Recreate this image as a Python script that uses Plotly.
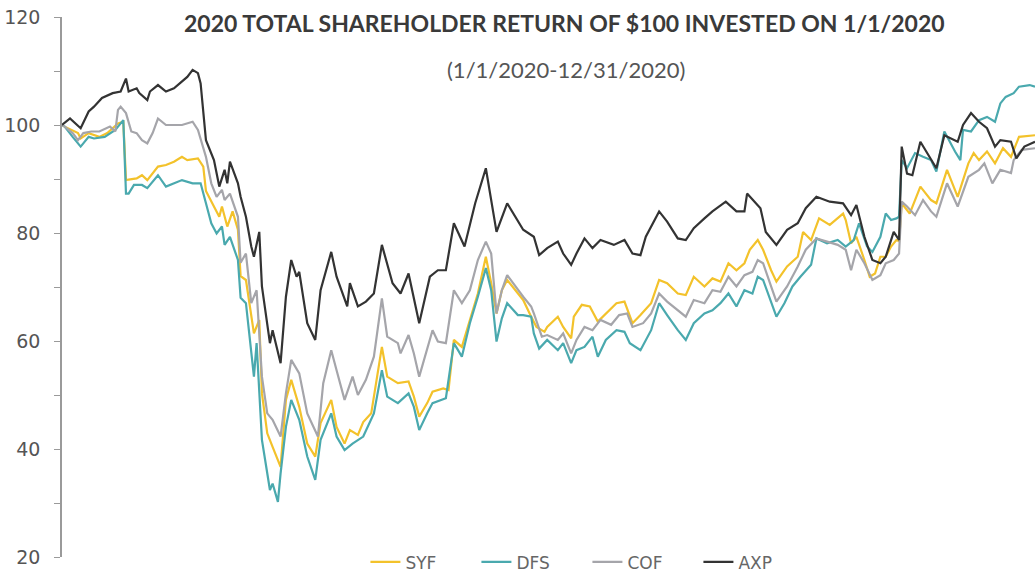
import pandas as pd
import plotly.graph_objects as go

# ---- data (days since 1/1/2020, value of $100 invested) ----
syf_days = [0,1,6,7,10,14,17,21,23,24,25,28,30,32,36,39,42,45,47,51,53,54,57,59,60,62,64,66,67,69,72,74,75,77,79,82,84,86,89,92,95,97,101,103,106,108,111,113,116,120,122,126,130,132,134,137,139,143,145,147,150,153,156,159,161,163,165,167,171,173,176,178,181,182,186,188,191,192,195,198,201,204,208,211,214,217,221,224,227,231,234,237,241,244,247,250,253,256,258,261,263,266,268,272,276,278,281,284,288,293,294,296,298,301,303,305,307,309,311,313,314,315,318,322,326,328,332,336,340,342,344,347,350,353,356,359,365]
syf_vals = [100,99.7,98.5,97.5,98.5,97.8,98.5,100.3,100.6,89.8,89.9,90.1,90.7,89.8,92.3,92.6,93.2,94.1,93.5,93.8,92.3,87.8,84.9,83,84.9,81.2,84,80.6,72,71.3,61.4,63.9,50.3,42.9,40.4,36.7,49.1,52.8,47.8,41,38.6,44.8,49.1,44.1,41,43.5,42.6,45,46.6,58.9,53.4,52.2,52.5,49.7,46,48.5,50.6,51.2,50.9,60.2,58.9,63.9,68.8,75.6,70.7,65.1,69.4,71.3,68.8,67.6,64.5,62.6,61.7,62.6,64.5,62.6,60.5,64.5,66.7,66.4,63.6,65.1,67,67.3,63.3,64.8,67,71.3,70.7,68.8,68.5,71.9,70.1,71.6,71,74.4,73.1,74.4,76.9,78.7,76.9,73.1,71,73.8,75.6,80.2,78.7,82.7,81.5,83.6,82.4,78.1,79.3,75,71.9,72.5,75.6,75.6,77.5,78.7,78.5,85.5,83.6,88.6,86.1,85.5,91.7,86.7,92.9,94.8,93.5,95.1,92.9,95.7,94.1,97.8,98.1]

dfs_days = [0,1,4,7,10,12,16,20,22,23,24,25,27,30,32,36,39,42,45,49,52,54,56,58,60,61,63,66,67,69,72,73,74,75,78,79,81,82,84,86,89,92,95,97,101,103,106,109,113,117,120,122,126,130,132,134,137,139,144,147,150,153,156,159,161,163,165,167,171,173,176,177,179,182,186,188,191,193,196,199,201,204,208,211,213,217,221,224,227,231,234,237,241,244,247,250,253,256,259,261,263,266,268,271,274,277,281,283,287,291,294,297,299,302,304,307,309,311,313,314,315,317,320,323,326,328,331,335,337,338,341,344,347,350,352,354,357,359,363,365]
dfs_vals = [100,99.7,97.8,96,97.8,97.5,97.8,99.1,100.3,100.9,87.3,87.3,88.9,88.9,88.3,90.7,88.6,89.2,89.8,89.2,89.2,85.5,81.8,79.9,81.2,77.8,79.3,75,68,67,53.4,59.6,50.3,41.7,32.4,33.6,30.2,35.5,44.1,49.1,45.4,38.6,34.3,41.7,46.6,42.3,39.8,41,42.3,46.6,54.6,49.7,48.5,50.3,47.8,43.5,46.6,48.5,49.4,59.6,57.1,63.3,68.2,73.5,69.4,59.9,64.2,67,64.8,64.8,64.5,61.4,58.6,60.2,58.3,59.6,55.9,58.3,58.9,60.8,57.1,60.2,62,61.7,59.6,58.3,62,67,64.8,62,60.2,63.3,65.1,65.7,67,68.8,66.4,69.4,68.8,71.9,71.3,67,64.5,67,70.1,71.9,74.1,79,78.1,78.7,77.5,78.7,81.8,77.5,76.5,79.3,83.6,82.4,82.7,83,93.5,92,94.8,94.1,93.5,91.4,98.8,95.1,93.5,99.1,98.8,100.9,101.5,100.6,104,105.2,105.9,107.1,107.4,107.1]

cof_days = [0,1,4,6,8,11,14,18,20,21,22,24,26,28,30,32,34,36,39,42,45,49,51,54,56,58,60,61,63,66,67,69,71,73,75,77,79,82,84,86,89,92,96,98,101,103,106,109,111,114,117,120,122,126,127,130,132,134,137,139,141,144,147,150,153,156,159,161,163,165,167,171,173,176,177,180,182,186,188,191,193,196,199,202,206,209,212,214,218,221,224,227,231,234,237,241,244,247,250,253,256,259,261,263,266,268,272,276,279,283,287,291,294,296,298,301,304,307,309,312,314,315,317,320,323,326,328,332,336,340,344,346,349,352,356,357,360,365]
cof_vals = [100,99.7,98.5,97.2,98.5,98.8,98.8,99.7,98.8,102.8,103.4,102.2,98.8,98.5,97.2,96.6,98.5,101.2,100,100,100,100.6,99.1,94.1,89.2,86.7,88,86.1,87.3,83,74.5,76.2,67,69.4,53.4,46.6,45.4,42.3,50.3,56.5,54,46.6,42.3,52.2,58.3,54.6,49.1,53.4,50,52.8,57.1,67.9,60.8,59.6,57.7,61.1,57.7,53.4,58.3,62,59.9,59.6,69.4,67,69.4,75,78.4,76.2,65.1,69.4,72.2,69.4,68.2,66.4,65.1,60.8,61.1,60.2,61.4,57.7,60.2,62.6,62,63.9,63,64.8,65.1,62.6,63.3,65.1,68.8,67.3,65.7,64.5,67.6,67,69.4,69.1,71.9,70.1,72.2,72.8,75,74.4,70.1,67.3,70.1,73.8,76.9,79,78.4,77.8,76.9,73.1,76.9,74.4,71.3,72.2,74.4,75,76.2,85.8,84.9,83.3,86.1,84,83,89.2,84.9,90.4,91.7,92.9,89.2,91.7,91.1,93.5,95.4,95.7]

axp_days = [0,3,7,10,12,15,19,22,24,25,28,29,32,33,36,39,42,44,47,49,51,52,54,57,59,61,62,63,66,67,69,71,72,74,75,78,79,82,84,86,88,89,92,95,97,101,103,107,108,111,114,117,120,124,127,130,132,134,138,141,144,147,151,155,159,163,167,173,177,179,182,186,188,191,193,196,199,202,207,211,214,217,219,224,227,231,234,237,241,244,249,253,256,257,262,264,268,272,276,279,283,288,293,296,298,301,304,307,309,312,314,315,317,319,322,326,328,331,336,338,341,344,347,350,352,356,358,361,365]
axp_vals = [100,101.2,99.4,102.5,103.4,105,105.9,106.2,108.6,106.2,106.8,105.9,104.6,106.2,107.4,106.2,106.8,107.7,108.9,110.2,109.6,107.7,97.2,93.5,88.6,91.7,89.2,93.2,89.2,86.7,83,77.5,75.6,80.2,70.1,59.6,62,55.9,68.2,75,71.9,72.8,63.3,60.2,69.4,76.5,71.9,66.4,70.7,66.4,67.3,68.8,77.8,70.7,68.8,72.5,68.2,63.3,71.9,73.1,73.1,81.8,77.5,85.5,92,80.2,85.5,80.6,79.3,75.9,77.2,78.4,76.2,74.1,76.2,79,77.2,78.7,77.8,78.7,76.2,75.9,79.3,84,82.1,79,78.7,80.9,82.7,84,85.8,84,84,87.3,84.6,80.2,77.8,80.6,81.8,84.6,86.7,85.8,85.5,83.3,85.2,79.3,75,74.4,75.6,80.2,78.7,96,91,90.7,96.9,93.5,92,98.1,96.9,100,102.2,100.6,99.4,96,97.2,96.9,93.8,96,96.9]

series_names = ["SYF", "DFS", "COF", "AXP"]
series_days = [syf_days, dfs_days, cof_days, axp_days]
series_vals = [syf_vals, dfs_vals, cof_vals, axp_vals]

y_tick_vals = [20, 30, 40, 50, 60, 70, 80, 90, 100, 110, 120]
y_tick_text = ["20", "", "40", "", "60", "", "80", "", "100", "", "120"]

title_text = "2020 TOTAL SHAREHOLDER RETURN OF $100 INVESTED ON 1/1/2020"
subtitle_text = "(1/1/2020-12/31/2020)"

# ---- styling ----
colors = ["#F3C22B", "#4AA9AE", "#A5A5AA", "#333333"]
base = pd.Timestamp("2020-01-01")

fig = go.Figure()
for name, days, vals, col in zip(series_names, series_days, series_vals, colors):
    n = min(len(days), len(vals))
    x = base + pd.to_timedelta(days[:n], unit="D")
    fig.add_trace(go.Scatter(
        x=x, y=vals[:n], mode="lines", name=name,
        line=dict(color=col, width=2.2),
        hoverinfo="x+y+name",
    ))

fig.update_layout(
    width=1035, height=576,
    paper_bgcolor="white", plot_bgcolor="white",
    margin=dict(l=62, r=0, t=17, b=19, autoexpand=False),
    font=dict(family="DejaVu Sans", color="#555555"),
    showlegend=True,
    legend=dict(
        orientation="h", x=0.54, xanchor="center", y=-0.01, yanchor="middle",
        font=dict(family="DejaVu Sans", size=17, color="#666666"),
        entrywidth=66, bgcolor="rgba(0,0,0,0)",
    ),
    annotations=[
        dict(text="<b>" + title_text + "</b>", xref="paper", yref="paper",
             x=0.516, y=0.989, xanchor="center", yanchor="middle", showarrow=False,
             font=dict(family="Lato", size=23, color="#3a3a3a")),
        dict(text=subtitle_text, xref="paper", yref="paper",
             x=0.518, y=0.902, xanchor="center", yanchor="middle", showarrow=False,
             font=dict(family="Lato", size=22, color="#555555")),
    ],
)

fig.update_xaxes(
    range=[base, base + pd.Timedelta(days=365)],
    visible=False, showgrid=False, zeroline=False,
)
fig.update_yaxes(
    range=[20, 120], tickvals=y_tick_vals, ticktext=y_tick_text,
    showgrid=False, zeroline=False,
    showline=True, linecolor="#9a9a9a", linewidth=1.5,
    ticks="outside", ticklen=6, tickcolor="#9a9a9a", tickwidth=1.2,
    ticklabelstandoff=10, ticklabeloverflow="allow",
    tickfont=dict(family="DejaVu Sans", size=19, color="#555555"),
)

# remove the page's default 8px body margin so the figure fills the window
fig.write_html("out.html", config={"displayModeBar": False},
               post_script="document.body.style.margin='0px';")
